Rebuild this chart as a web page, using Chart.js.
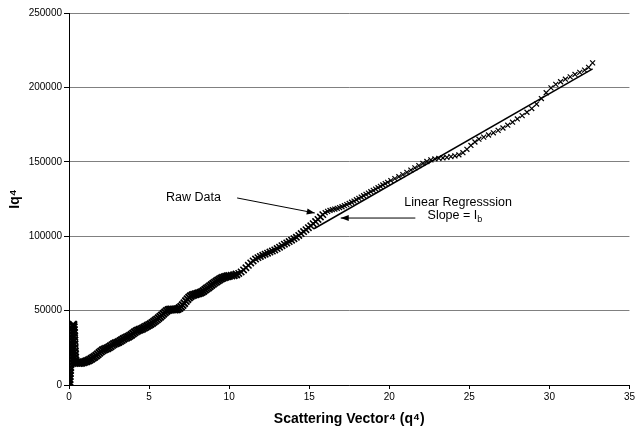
<!DOCTYPE html>
<html>
<head>
<meta charset="utf-8">
<script src="https://cdn.jsdelivr.net/npm/chart.js@4/dist/chart.umd.min.js"></script>
<style>
  html, body { margin: 0; padding: 0; background: #fff; }
  #wrap { width: 637px; height: 428px; }
</style>
</head>
<body>
<div id="wrap"><canvas id="iq-chart"></canvas></div>
<script>
// raw data (q^4 vs Iq^4), split by region of the curve
const spikeX = [
  0.02, 0.03, 0.04, 0.05, 0.06, 0.07, 0.08, 0.09, 0.10, 0.11, 0.12, 0.13, 0.14, 0.15, 0.16, 0.17, 0.18, 0.19, 0.20, 0.21, 0.22,
  0.24, 0.26, 0.28, 0.30,
  0.31, 0.32, 0.33, 0.34, 0.35, 0.36, 0.37, 0.38, 0.39, 0.40, 0.42, 0.45
];
const spikeY = [
  0, 2000, 4000, 6000, 8000, 10000, 12000, 14000, 16000, 18000, 20000, 22000, 24000, 26000, 28000, 30000, 32000, 34000, 36000, 38000, 40000,
  40500, 40000, 40500, 39000,
  37000, 35000, 32500, 30000, 27500, 25000, 22500, 20500, 18500, 16500, 15500, 15000
];

const lowX = [
  0.5, 0.6, 0.7, 0.8, 0.9, 1.0, 1.1, 1.2, 1.3, 1.4, 1.5, 1.6, 1.7, 1.8, 1.9, 2.0, 2.1, 2.2, 2.3, 2.4,
  2.5, 2.6, 2.7, 2.8, 2.9, 3.0, 3.1, 3.2, 3.3, 3.4, 3.5, 3.6, 3.7, 3.8, 3.9, 4.0, 4.1, 4.2, 4.3, 4.4,
  4.5, 4.6, 4.7, 4.8, 4.9, 5.0, 5.1, 5.2, 5.3, 5.4, 5.5, 5.6, 5.7, 5.8, 5.9, 6.0, 6.1, 6.2, 6.3, 6.4,
  6.5, 6.6, 6.7, 6.8, 6.9, 7.0, 7.1, 7.2, 7.3, 7.4, 7.5, 7.6, 7.7, 7.8, 7.9, 8.0, 8.1, 8.2, 8.3, 8.4,
  8.5, 8.6, 8.7, 8.8, 8.9, 9.0, 9.1, 9.2, 9.3, 9.4, 9.5, 9.6, 9.7, 9.8, 9.9, 10.0
];
const lowY = [
  14900, 14700, 14800, 15000, 15300, 15600, 16000, 16400, 17000, 17600, 18300, 19000, 19800, 20700, 21600, 22500, 23300, 23900, 24300, 24700,
  25300, 26000, 26800, 27500, 28000, 28400, 28900, 29500, 30200, 30900, 31500, 32000, 32500, 33100, 33800, 34600, 35400, 36100, 36700, 37100,
  37500, 38000, 38600, 39200, 39800, 40400, 41000, 41700, 42500, 43300, 44100, 45000, 45900, 46900, 47900, 48900, 49800, 50400, 50700, 50800,
  50800, 50700, 50800, 51100, 51700, 52600, 53700, 55000, 56400, 57700, 58800, 59700, 60300, 60700, 61000, 61300, 61600, 62000, 62500, 63200,
  64000, 64800, 65600, 66400, 67200, 68000, 68800, 69500, 70200, 70900, 71500, 72000, 72400, 72800, 73100, 73300
];

const midX = [
  10.15, 10.3, 10.45, 10.6, 10.75, 10.9, 11.05, 11.2, 11.35, 11.5, 11.65, 11.8, 11.95, 12.1, 12.25, 12.4, 12.55, 12.7, 12.85, 13.0,
  13.15, 13.3, 13.45, 13.6, 13.75, 13.9, 14.05, 14.2, 14.35, 14.5, 14.65, 14.8, 14.95, 15.1, 15.25, 15.4, 15.55, 15.7, 15.85, 16.0,
  16.15, 16.3, 16.45, 16.6, 16.75, 16.9, 17.05, 17.2, 17.35, 17.5, 17.65, 17.8, 17.95, 18.1, 18.25, 18.4, 18.55, 18.7, 18.85, 19.0,
  19.15, 19.3, 19.45, 19.6, 19.75, 19.9
];
const midY = [
  73500, 73800, 74300, 75000, 76000, 77300, 78800, 80400, 82000, 83400, 84600, 85600, 86400, 87200, 87900, 88600, 89300, 90000, 90800, 91700,
  92600, 93600, 94600, 95500, 96400, 97300, 98300, 99300, 100500, 101800, 103100, 104400, 105700, 107000, 108400, 109800, 111300, 112900, 114500, 115800,
  116700, 117300, 117800, 118200, 118700, 119200, 119800, 120500, 121200, 122000, 122800, 123600, 124500, 125400, 126300, 127200, 128100, 129000, 129900, 130800,
  131700, 132600, 133500, 134400, 135300, 136200
];

const highX = [
  20.1, 20.35, 20.6, 20.85, 21.1, 21.35, 21.6, 21.85, 22.1, 22.35, 22.6, 22.85, 23.1, 23.35, 23.6, 23.85, 24.1, 24.35, 24.6, 24.85,
  25.1, 25.35, 25.6, 25.9, 26.2, 26.5, 26.8, 27.1, 27.4, 27.7, 28.0, 28.3, 28.6, 28.9, 29.2, 29.5, 29.8, 30.1, 30.4, 30.7,
  31.0, 31.3, 31.6, 31.9, 32.2, 32.45, 32.7
];
const highY = [
  137400, 138700, 140000, 141400, 142900, 144400, 145900, 147400, 148900, 150200, 151300, 151900, 152300, 152600, 153000, 153500, 154000, 154700, 156100, 158400,
  161000, 163300, 165200, 166600, 168000, 169500, 171100, 172700, 174600, 176600, 178800, 181000, 183300, 185800, 188800, 192500, 196400, 199700, 202000, 203800,
  205500, 207100, 208700, 210100, 211600, 213500, 216500
];

// linear regression line end points
const fitX = [15.3, 32.7];
const fitY = [105000, 212500];

const xTicks = [0, 5, 10, 15, 20, 25, 30, 35];
const yTicks = [0, 50000, 100000, 150000, 200000, 250000];

const rawX = [...spikeX, ...lowX, ...midX, ...highX];
const rawY = [...spikeY, ...lowY, ...midY, ...highY];

const FONT = '"Liberation Sans", Arial, sans-serif';

const annotations = {
  id: 'annotations',
  afterDatasetsDraw(chart) {
    const ctx = chart.ctx;
    const sx = chart.scales.x, sy = chart.scales.y;
    const px = v => sx.getPixelForValue(v);
    const py = v => sy.getPixelForValue(v);

    ctx.save();
    ctx.fillStyle = '#000';
    ctx.strokeStyle = '#000';
    ctx.font = '12.5px ' + FONT;
    ctx.textAlign = 'center';
    ctx.textBaseline = 'middle';

    ctx.fillText('Raw Data', px(7.77), py(126300));
    ctx.fillText('Linear Regresssion', px(24.3), py(122300));

    // "Slope = Ib" with subscript
    const sText = 'Slope = I';
    const sw = ctx.measureText(sText).width;
    ctx.font = '9px ' + FONT;
    const bw = ctx.measureText('b').width;
    ctx.font = '12.5px ' + FONT;
    const sLeft = px(24.1) - (sw + bw) / 2;
    ctx.textAlign = 'left';
    ctx.fillText(sText, sLeft, py(113800));
    ctx.font = '9px ' + FONT;
    ctx.fillText('b', sLeft + sw, py(113800) + 4);

    function arrow(x1, y1, x2, y2) {
      ctx.lineWidth = 1;
      ctx.beginPath();
      ctx.moveTo(x1, y1);
      ctx.lineTo(x2, y2);
      ctx.stroke();
      const a = Math.atan2(y2 - y1, x2 - x1);
      const len = 8, half = 3;
      ctx.beginPath();
      ctx.moveTo(x2, y2);
      ctx.lineTo(x2 - len * Math.cos(a) + half * Math.sin(a), y2 - len * Math.sin(a) - half * Math.cos(a));
      ctx.lineTo(x2 - len * Math.cos(a) - half * Math.sin(a), y2 - len * Math.sin(a) + half * Math.cos(a));
      ctx.closePath();
      ctx.fill();
    }
    arrow(px(10.5), py(125700), px(15.35), py(115600));
    arrow(px(21.63), py(112200), px(16.97), py(112200));
    ctx.restore();
  }
};

// denser, heavier markers where the original trace is a solid band
function markerRadius(c) {
  if (!c.raw) return 3.5;
  if (c.raw.x < 10.5) return 5;
  if (c.raw.x < 16) return 4.5;
  return 3.5;
}
function markerWidth(c) {
  if (!c.raw) return 1.2;
  if (c.raw.x < 10.5) return 2;
  if (c.raw.x < 16) return 1.6;
  return 1.2;
}

const ctx = document.getElementById('iq-chart').getContext('2d');
new Chart(ctx, {
  type: 'scatter',
  data: {
    datasets: [
      {
        label: 'Raw Data',
        data: rawX.map((x, i) => ({ x: x, y: rawY[i] })),
        pointStyle: 'crossRot',
        pointRadius: markerRadius,
        pointBorderWidth: markerWidth,
        borderColor: '#000',
        backgroundColor: '#000',
        showLine: false
      },
      {
        label: 'Linear Regression',
        data: fitX.map((x, i) => ({ x: x, y: fitY[i] })),
        showLine: true,
        pointRadius: 0,
        borderColor: '#000',
        borderWidth: 1.5,
        fill: false
      }
    ]
  },
  options: {
    responsive: true,
    maintainAspectRatio: false,
    animation: false,
    events: [],
    layout: { padding: { top: 13, right: 5, left: 0, bottom: 0 } },
    plugins: {
      legend: { display: false },
      tooltip: { enabled: false }
    },
    scales: {
      x: {
        type: 'linear',
        min: 0,
        max: 35,
        afterBuildTicks: scale => { scale.ticks = xTicks.map(v => ({ value: v })); },
        afterFit: scale => { scale.height = 43; },
        ticks: {
          color: '#000',
          font: { family: FONT, size: 10 },
          padding: 2,
          maxRotation: 0,
          callback: v => String(v)
        },
        grid: { drawOnChartArea: false, drawTicks: true, tickLength: 4, color: '#000' },
        border: { color: '#000', width: 1 },
        title: {
          display: true,
          text: 'Scattering Vector\u2074 (q\u2074)',
          color: '#000',
          font: { family: FONT, size: 14, weight: 'bold' },
          padding: { top: 0, bottom: 0 }
        }
      },
      y: {
        type: 'linear',
        min: 0,
        max: 250000,
        afterBuildTicks: scale => { scale.ticks = yTicks.map(v => ({ value: v })); },
        afterFit: scale => { scale.width = 69; },
        ticks: {
          color: '#000',
          font: { family: FONT, size: 10 },
          padding: 2,
          callback: v => String(v)
        },
        grid: { color: '#808080', lineWidth: 1, tickLength: 5, tickColor: '#000' },
        border: { color: '#000', width: 1 },
        title: {
          display: true,
          text: 'Iq\u2074',
          color: '#000',
          font: { family: FONT, size: 14, weight: 'bold' },
          padding: { top: 7, bottom: 0 }
        }
      }
    }
  },
  plugins: [annotations]
});
</script>
</body>
</html>
